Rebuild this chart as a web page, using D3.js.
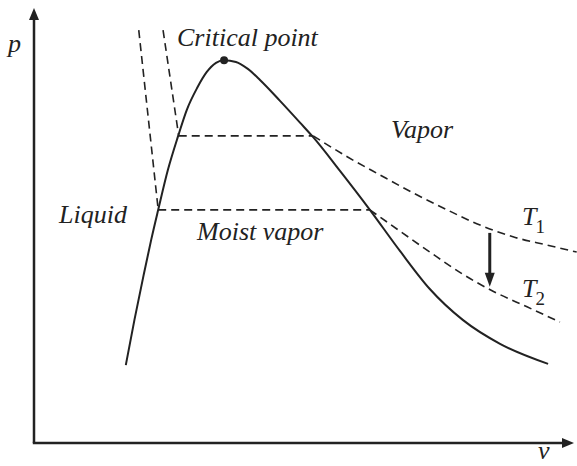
<!DOCTYPE html>
<html>
<head>
<meta charset="utf-8">
<script src="https://cdn.jsdelivr.net/npm/d3@7"></script>
<style>
  html, body { margin: 0; padding: 0; background: #fff; }
  svg { display: block; }
</style>
</head>
<body>
<svg id="chart" width="577" height="466"></svg>
<script>
// ---- data (abstract v, p units, 0..100) ----
const domeV = [17.0, 18.6, 20.3, 21.7, 23.0, 24.8, 26.7, 28.3, 30.2, 32.0, 33.7, 35.2, 37.4, 39.6, 41.9, 45.6, 49.3, 51.7, 56.7, 62.2, 67.8, 73.3, 79.4, 86.3, 95.2];
const domeP = [17.9, 28.3, 38.6, 46.7, 53.6, 62.8, 70.6, 76.6, 81.6, 85.3, 87.4, 88.0, 87.6, 86.0, 83.4, 78.6, 73.6, 70.3, 62.5, 53.6, 44.1, 35.4, 28.3, 22.8, 18.2];

const criticalV = 35.2;
const criticalP = 88.0;

const t1V = [23.9, 26.8, 51.7, 58.0, 64.1, 70.2, 76.5, 82.6, 88.7, 95.0, 100.5];
const t1P = [94.9, 70.6, 70.6, 65.8, 61.6, 57.5, 53.6, 50.1, 47.4, 45.5, 43.9];

const t2V = [19.4, 23.0, 62.2, 67.2, 73.3, 79.4, 85.0, 91.3, 97.4];
const t2P = [94.9, 53.6, 53.6, 49.2, 43.9, 38.8, 34.9, 31.3, 27.8];

const arrowV = 84.4;
const arrowP = [48.3, 35.9];

const labels = ["Critical point", "Vapor", "Liquid", "Moist vapor"];
const axisLabels = ["p", "v"];
const isoLabels = [["T", "1"], ["T", "2"]];

// ---- drawing ----
const svg = d3.select("#chart");
const x = d3.scaleLinear().domain([0, 100]).range([34, 574]);
const y = d3.scaleLinear().domain([0, 100]).range([443, 8]);

const ink = "#222";

// axes with arrowheads
svg.append("line").attr("x1", x(0)).attr("y1", y(0)).attr("x2", x(0)).attr("y2", y(100) + 10)
  .attr("stroke", ink).attr("stroke-width", 2.5);
svg.append("line").attr("x1", x(0) - 1.2).attr("y1", y(0)).attr("x2", x(100) - 10).attr("y2", y(0))
  .attr("stroke", ink).attr("stroke-width", 2.5);
svg.append("path").attr("d", `M${x(0)},${y(100)} L${x(0) - 5},${y(100) + 12} L${x(0) + 5},${y(100) + 12} Z`).attr("fill", ink);
svg.append("path").attr("d", `M${x(100)},${y(0)} L${x(100) - 12},${y(0) - 5} L${x(100) - 12},${y(0) + 5} Z`).attr("fill", ink);

// saturation dome
const dome = domeV.map((v, i) => [v, domeP[i]]);
const smooth = d3.line().x(d => x(d[0])).y(d => y(d[1])).curve(d3.curveMonotoneX);
const straight = d3.line().x(d => x(d[0])).y(d => y(d[1]));
svg.append("path").attr("d", smooth(dome))
  .attr("fill", "none").attr("stroke", ink).attr("stroke-width", 2);

// isotherms
function iso(vs, ps) {
  const pts = vs.map((v, i) => [v, ps[i]]);
  const liq = pts.slice(0, 2);
  const hor = pts.slice(1, 3);
  const vap = pts.slice(2);
  [straight(liq), straight(hor), smooth(vap)].forEach(d => {
    svg.append("path").attr("d", d).attr("fill", "none").attr("stroke", ink)
      .attr("stroke-width", 1.6).attr("stroke-dasharray", "8,5");
  });
}
iso(t1V, t1P);
iso(t2V, t2P);

// critical point
svg.append("circle").attr("cx", x(criticalV)).attr("cy", y(criticalP)).attr("r", 4).attr("fill", ink);

// arrow T1 -> T2
svg.append("line").attr("x1", x(arrowV)).attr("y1", y(arrowP[0])).attr("x2", x(arrowV)).attr("y2", y(arrowP[1]) - 12)
  .attr("stroke", ink).attr("stroke-width", 3);
svg.append("path").attr("d", `M${x(arrowV)},${y(arrowP[1])} L${x(arrowV) - 5},${y(arrowP[1]) - 14} L${x(arrowV) + 5},${y(arrowP[1]) - 14} Z`).attr("fill", ink);

// text labels
const fs = 26;
function txt(xp, yp, size) {
  return svg.append("text").attr("x", xp).attr("y", yp)
    .attr("font-size", size).attr("fill", ink)
    .style("font-family", "'Liberation Serif'");
}
const lblPos = [[177, 46], [391, 138], [59, 223], [197, 240]];
labels.forEach((t, i) => {
  txt(lblPos[i][0], lblPos[i][1], fs).style("font-style", "italic").text(t);
});
const axPos = [[8, 52], [538, 459]];
axisLabels.forEach((t, i) => {
  txt(axPos[i][0], axPos[i][1], fs).style("font-style", "italic").text(t);
});
const isoPos = [[522, 225], [522, 297]];
isoLabels.forEach((t, i) => {
  const tx = txt(isoPos[i][0], isoPos[i][1], fs);
  tx.append("tspan").style("font-style", "italic").text(t[0]);
  tx.append("tspan").attr("font-size", 19).attr("dy", 8).attr("dx", -1).text(t[1]);
});
</script>
</body>
</html>
